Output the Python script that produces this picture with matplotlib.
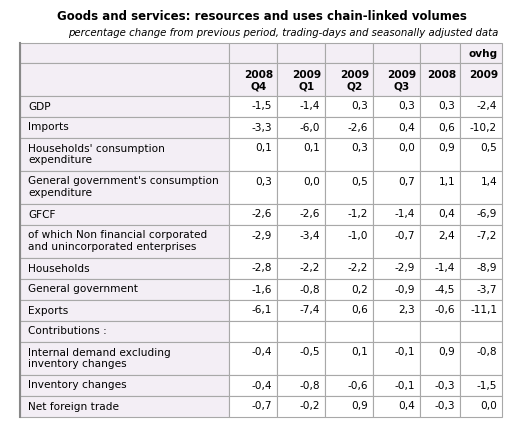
import matplotlib
matplotlib.use("Agg")
import matplotlib.pyplot as plt
from matplotlib.patches import Rectangle

title = "Goods and services: resources and uses chain-linked volumes"
subtitle = "percentage change from previous period, trading-days and seasonally adjusted data"
col_headers = ["2008\nQ4", "2009\nQ1", "2009\nQ2", "2009\nQ3", "2008", "2009"]
row_labels = ["GDP", "Imports", "Households' consumption\nexpenditure",
              "General government's consumption\nexpenditure", "GFCF",
              "of which Non financial corporated\nand unincorporated enterprises",
              "Households", "General government", "Exports", "Contributions :",
              "Internal demand excluding\ninventory changes", "Inventory changes",
              "Net foreign trade"]
values = [
    ["-1,5", "-1,4", "0,3", "0,3", "0,3", "-2,4"],
    ["-3,3", "-6,0", "-2,6", "0,4", "0,6", "-10,2"],
    ["0,1", "0,1", "0,3", "0,0", "0,9", "0,5"],
    ["0,3", "0,0", "0,5", "0,7", "1,1", "1,4"],
    ["-2,6", "-2,6", "-1,2", "-1,4", "0,4", "-6,9"],
    ["-2,9", "-3,4", "-1,0", "-0,7", "2,4", "-7,2"],
    ["-2,8", "-2,2", "-2,2", "-2,9", "-1,4", "-8,9"],
    ["-1,6", "-0,8", "0,2", "-0,9", "-4,5", "-3,7"],
    ["-6,1", "-7,4", "0,6", "2,3", "-0,6", "-11,1"],
    ["", "", "", "", "", ""],
    ["-0,4", "-0,5", "0,1", "-0,1", "0,9", "-0,8"],
    ["-0,4", "-0,8", "-0,6", "-0,1", "-0,3", "-1,5"],
    ["-0,7", "-0,2", "0,9", "0,4", "-0,3", "0,0"],
]

W, H = 525, 424
fig = plt.figure(figsize=(W/100, H/100), dpi=100)
ax = fig.add_axes([0, 0, 1, 1])
ax.set_xlim(0, W); ax.set_ylim(H, 0); ax.axis("off")

xs = [20, 229, 277, 325, 373, 420, 460, 502]
ys = [43, 63, 96, 117, 138, 171, 204, 225, 258, 279, 300, 321, 342, 375, 396, 417]
lav = "#f3eef5"
border = "#a8a8a8"
fs = 7.6

ax.text(262, 16, title, ha="center", va="center", fontsize=8.5, fontweight="bold")
ax.text(498, 33, subtitle, ha="right", va="center", fontsize=7.3, style="italic")

for r in range(2):
    for c in range(7):
        ax.add_patch(Rectangle((xs[c], ys[r]), xs[c+1]-xs[c], ys[r+1]-ys[r],
                               facecolor=lav, edgecolor=border, lw=0.8))
ax.text(xs[7]-4, ys[0]+11, "ovhg", ha="right", va="center", fontsize=fs, fontweight="bold")
for c, h in enumerate(col_headers):
    ax.text(xs[c+2]-4, ys[1]+7, h, ha="right", va="top", fontsize=fs,
            fontweight="bold", multialignment="center", linespacing=1.15)

for i, (lab, vals) in enumerate(zip(row_labels, values)):
    y0, y1 = ys[i+2], ys[i+3]
    ax.add_patch(Rectangle((xs[0], y0), xs[1]-xs[0], y1-y0, facecolor=lav, edgecolor=border, lw=0.8))
    ax.text(xs[0]+8, y0+5.5, lab, ha="left", va="top", fontsize=fs, linespacing=1.15)
    for c, v in enumerate(vals):
        ax.add_patch(Rectangle((xs[c+1], y0), xs[c+2]-xs[c+1], y1-y0,
                               facecolor="white", edgecolor=border, lw=0.8))
        ax.text(xs[c+2]-5, y0+5.5, v, ha="right", va="top", fontsize=fs)

ax.plot([xs[0], xs[0]], [ys[0], ys[-1]], color="#888888", lw=1.5)
fig.savefig("out.png", dpi=100)
